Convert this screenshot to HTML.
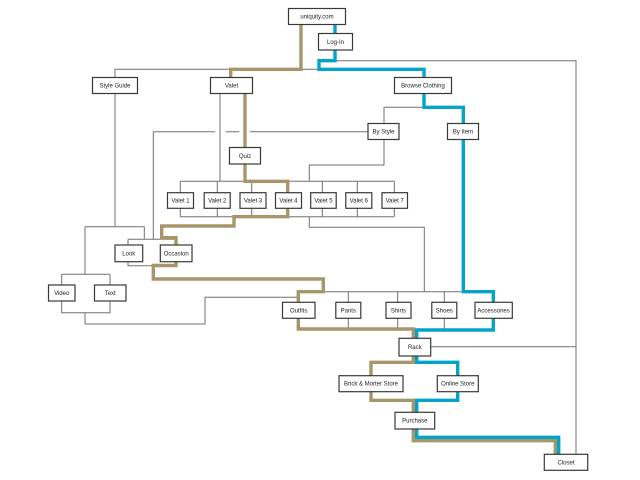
<!DOCTYPE html>
<html><head><meta charset="utf-8"><style>
html,body{margin:0;padding:0;background:#fff;}
svg{display:block;}
text{font-family:"Liberation Sans",Arial,sans-serif;font-size:6px;fill:#222;text-anchor:middle;}
</style></head><body>
<svg width="640" height="480" viewBox="0 0 640 480" xmlns="http://www.w3.org/2000/svg">
<rect width="640" height="480" fill="#fff"/>
<g fill="none" stroke="#707070" stroke-width="1">
<path d="M115,77 V69.3 H320"/>
<path d="M335,60.7 H576 V454"/>
<path d="M431,346.7 H576"/>
<path d="M115,93 V226.7 M85,226.7 H144.3 V239.3 M85,226.7 V274.3"/>
<path d="M61.7,274.3 H110 M61.7,274.3 V285 M110,274.3 V285"/>
<path d="M61.7,301 V312.7 H110 V301 M85,312.7 V324 H205 V297.3 H298"/>
<path d="M128,239.3 H176 M128,239.3 V245 M128,262 V265.7 H153.3"/>
<path d="M153.3,131.7 V239.3"/>
<path d="M153.3,131.7 H215 M225.7,131.7 H239.3 M250,131.7 H368"/>
<path d="M220,93 V181.3"/>
<path d="M384,139 V165 H309.3 V181.3"/>
<path d="M424,107.3 H384 V123"/>
<path d="M180.3,181.3 H394.3 M180.3,181.3 V193 M217.3,181.3 V193 M251.7,181.3 V193 M287.7,181.3 V193 M322.3,181.3 V193 M357.3,181.3 V193 M394.3,181.3 V193"/>
<path d="M180.3,216.7 H394.3 M180.3,208 V216.7 M217.3,208 V216.7 M251.7,208 V216.7 M287.7,208 V216.7 M322.3,208 V216.7 M357.3,208 V216.7 M394.3,208 V216.7"/>
<path d="M309.3,216.7 V227.3 H424.3 V291.7"/>
<path d="M298,291.7 H493 M348.3,291.7 V302 M397.7,291.7 V302 M444.3,291.7 V302"/>
<path d="M348.3,318 V330 M397.7,318 V330 M444.3,318 V330"/>
</g>
<g fill="none" stroke="#a8966b" stroke-width="3.4" stroke-linejoin="miter" stroke-linecap="square">
<path d="M301,24 V69.3 H230.7 V76"/>
<path d="M245,94 V146"/>
<path d="M245,165 V181.3 H287.7 V192"/>
<path d="M287.7,209 V216.7 H234 V226 H161.7 V237.7 H176 V244"/>
<path d="M176,263 V265.5 H153.3 V279 H323.3 V291.7 H298.3 V301"/>
<path d="M298.3,319 V329 H413.3 V337"/>
<path d="M413.3,357 V362.3 H371 V375"/>
<path d="M371,393 V400.3 H413.3 V411"/>
<path d="M413.3,430 V440.7 H555.3 V453"/>
</g>
<g fill="none" stroke="#04a3c9" stroke-width="3.4" stroke-linejoin="miter" stroke-linecap="square">
<path d="M335,25 V32"/>
<path d="M335,51 V60.7 H319 V69.3 H424 V76"/>
<path d="M424,94 V107.3 H463.3 V122"/>
<path d="M463.3,140 V291.7 H493.3 V301"/>
<path d="M493.3,319 V330 H416.7 V337"/>
<path d="M416.7,357 V362.3 H457.7 V375"/>
<path d="M457.7,393 V400.3 H416.7 V411"/>
<path d="M416.7,430 V437.3 H558.7 V453"/>
</g>
<g fill="#fff" stroke="#383838" stroke-width="1.2">
<rect x="288.5" y="8.5" width="57" height="16"/>
<rect x="318.5" y="33.5" width="34" height="16.5"/>
<rect x="92.5" y="77.5" width="45" height="16"/>
<rect x="210.5" y="77.5" width="42" height="16"/>
<rect x="394.5" y="77.5" width="57" height="16"/>
<rect x="368" y="123.5" width="31" height="16"/>
<rect x="447.5" y="123.5" width="31" height="16"/>
<rect x="229.5" y="147.5" width="31" height="16.5"/>
<rect x="167.5" y="192.7" width="26" height="15.6"/>
<rect x="204.2" y="192.7" width="26" height="15.6"/>
<rect x="240" y="192.7" width="26" height="15.6"/>
<rect x="275.5" y="192.7" width="26" height="15.6"/>
<rect x="310.7" y="192.7" width="25.5" height="15.6"/>
<rect x="345.8" y="192.7" width="26" height="15.6"/>
<rect x="382" y="192.7" width="25.5" height="15.6"/>
<rect x="115" y="245" width="27.7" height="16.7"/>
<rect x="160.3" y="245" width="31.7" height="16.7"/>
<rect x="48.5" y="285" width="26.5" height="16"/>
<rect x="94.5" y="285" width="31.5" height="16"/>
<rect x="282.5" y="302.3" width="32.5" height="16"/>
<rect x="335.8" y="302.3" width="25" height="16"/>
<rect x="386" y="302.3" width="25" height="16"/>
<rect x="431.8" y="302.3" width="25" height="16"/>
<rect x="475" y="302.3" width="37.3" height="16"/>
<rect x="399" y="338.3" width="31.7" height="17.7"/>
<rect x="339" y="375.7" width="64" height="16"/>
<rect x="437.3" y="375.7" width="41" height="16"/>
<rect x="395" y="412.3" width="39.7" height="16.7"/>
<rect x="544.3" y="454.3" width="43.4" height="16"/>
</g>
<g>
<text x="317" y="18.6">uniquity.com</text>
<text x="335.5" y="43.8">Log-In</text>
<text x="115" y="87.6">Style Guide</text>
<text x="231.5" y="87.6">Valet</text>
<text x="423" y="87.6">Browse Clothing</text>
<text x="383.5" y="133.6">By Style</text>
<text x="463" y="133.6">By Item</text>
<text x="245" y="157.8">Quiz</text>
<text x="180.5" y="202.5">Valet 1</text>
<text x="217.2" y="202.5">Valet 2</text>
<text x="253" y="202.5">Valet 3</text>
<text x="288.5" y="202.5">Valet 4</text>
<text x="323.5" y="202.5">Valet 5</text>
<text x="358.8" y="202.5">Valet 6</text>
<text x="394.7" y="202.5">Valet 7</text>
<text x="128.8" y="255.5">Look</text>
<text x="176.2" y="255.5">Occasion</text>
<text x="61.7" y="295">Video</text>
<text x="110.2" y="295">Text</text>
<text x="298.7" y="312.3">Outfits</text>
<text x="348.3" y="312.3">Pants</text>
<text x="398.5" y="312.3">Shirts</text>
<text x="444.3" y="312.3">Shoes</text>
<text x="493.6" y="312.3">Accessories</text>
<text x="414.8" y="349.2">Rack</text>
<text x="371" y="385.7">Brick &amp; Morter Store</text>
<text x="457.8" y="385.7">Online Store</text>
<text x="414.8" y="422.7">Purchase</text>
<text x="566" y="464.3">Closet</text>
</g>
</svg>
</body></html>
